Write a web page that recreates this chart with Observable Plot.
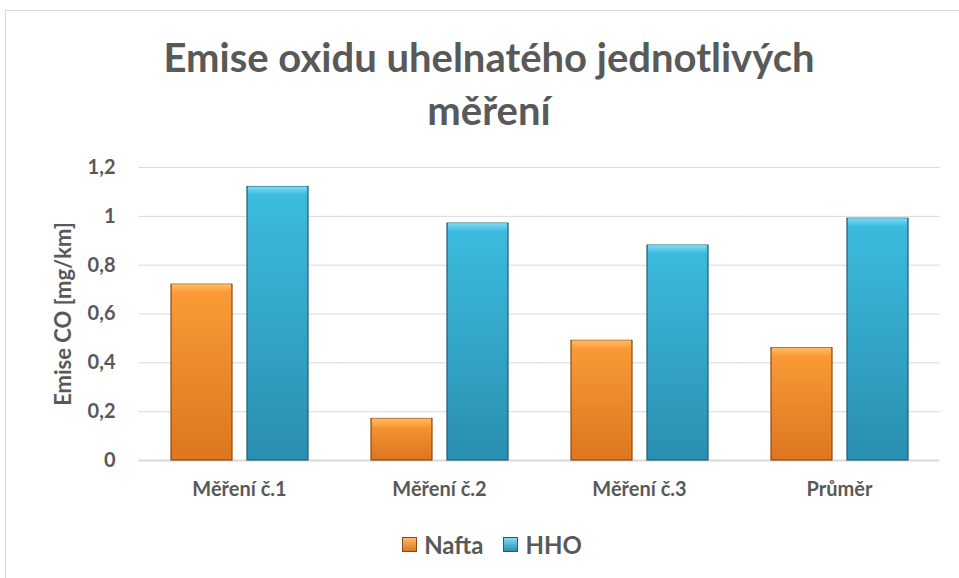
<!DOCTYPE html>
<html><head><meta charset="utf-8">
<script src="https://cdn.jsdelivr.net/npm/d3@7"></script>
<script src="https://cdn.jsdelivr.net/npm/@observablehq/plot@0.6"></script>
<style>
body{margin:0;background:#fff;font-family:Lato,"Open Sans",sans-serif;}
#wrap{position:relative;width:959px;height:578px;overflow:hidden;background:#fff}
#frame{position:absolute;left:5px;top:10px;width:1000px;height:700px;border:1px solid #d9d9d9;box-sizing:border-box}
#title{position:absolute;top:31px;left:0;width:978px;text-align:center;font-weight:700;font-size:40px;color:#595959;line-height:53px}
#chart{position:absolute;left:0;top:140px}
#ylabel{position:absolute;left:62px;top:314px;transform:translate(-50%,-50%) rotate(-90deg);white-space:nowrap;font-weight:700;font-size:22px;color:#595959}
#legend{position:absolute;top:530px;left:0;width:984px;display:flex;justify-content:center;align-items:center;font-weight:700;font-size:24px;color:#595959}
.sw{display:inline-block;width:15px;height:15px;margin-right:7px;box-sizing:border-box}
.item{display:flex;align-items:center;margin:0 10px}
</style></head>
<body>
<div id="wrap">
  <div id="frame"></div>
  <div id="title">Emise oxidu uhelnatého jednotlivých<br>měření</div>
  <div id="chart"></div>
  <div id="ylabel"></div>
  <div id="legend"></div>
</div>
<script>
const categories = ["Měření č.1", "Měření č.2", "Měření č.3", "Průměr"];
const series = ["Nafta", "HHO"];
const naftaValues = [0.72, 0.17, 0.49, 0.46];
const hhoValues = [1.12, 0.97, 0.88, 0.99];
const yTicks = [0, 0.2, 0.4, 0.6, 0.8, 1, 1.2];
const yLabel = "Emise CO [mg/km]";

const colors = {
  Nafta: {top: "#fb9c37", bottom: "#dc7620", edge: "#8c4a10", bevel: "#fdbb6a"},
  HHO: {top: "#3cbce0", bottom: "#2a8fb0", edge: "#1f5d72", bevel: "#7fdcf3"}
};

const data = [];
categories.forEach((c, i) => {
  data.push({cat: c, series: "Nafta", v: naftaValues[i]});
  data.push({cat: c, series: "HHO", v: hhoValues[i]});
});

const fmt = d => String(d).replace(".", ",");

const marks = [
  Plot.ruleY(yTicks.slice(1), {stroke: "#d9d9d9", strokeWidth: 1, insetLeft: -31.5, insetRight: -31.5}),
  Plot.ruleY([0], {stroke: "#d9d9d9", strokeWidth: 2, insetLeft: -31.5, insetRight: -31.5})
];
series.forEach(s => {
  const sub = data.filter(d => d.series === s);
  const key = s === "Nafta" ? "gN" : "gH";
  marks.push(Plot.barY(sub, {fx: "cat", x: "series", y: "v", fill: `url(#${key})`, stroke: colors[s].edge, strokeWidth: 1.2}));
  marks.push(Plot.barY(sub, {fx: "cat", x: "series", y1: "v", y2: "v", insetBottom: -8, insetLeft: 1, insetRight: 1, fill: `url(#${key}b)`}));
});
marks.push(Plot.axisY({ticks: yTicks, tickSize: 0, tickPadding: 55, tickFormat: fmt, label: null}));
marks.push(Plot.axisFx({anchor: "bottom", tickSize: 0, tickPadding: 21, label: null}));

const plot = Plot.plot({
  width: 959,
  height: 380,
  marginLeft: 137,
  marginRight: 19,
  marginTop: 27,
  marginBottom: 60,
  style: {fontFamily: "Lato, 'Open Sans', sans-serif", fontSize: "20px", fontWeight: "700", color: "#595959", overflow: "visible", background: "transparent"},
  fx: {domain: categories, paddingInner: 0.31, paddingOuter: 0.155, label: null, axis: null},
  x: {domain: series, paddingInner: 0.2, paddingOuter: 0, axis: null},
  y: {domain: [0, 1.2], label: null, axis: null},
  marks
});

const svg = d3.select(plot);
const defs = svg.insert("defs", ":first-child");
function grad(id, c1, c2) {
  const g = defs.append("linearGradient").attr("id", id).attr("x1", 0).attr("y1", 0).attr("x2", 0).attr("y2", 1);
  g.append("stop").attr("offset", "0%").attr("stop-color", c1);
  g.append("stop").attr("offset", "100%").attr("stop-color", c2);
}
grad("gN", colors.Nafta.top, colors.Nafta.bottom);
grad("gH", colors.HHO.top, colors.HHO.bottom);
grad("gNb", colors.Nafta.bevel, colors.Nafta.top);
grad("gHb", colors.HHO.bevel, colors.HHO.top);
document.getElementById("chart").appendChild(plot);
document.getElementById("ylabel").textContent = yLabel;

const legend = d3.select("#legend");
series.forEach(s => {
  const it = legend.append("div").attr("class", "item");
  it.append("span").attr("class", "sw")
    .style("background", `linear-gradient(${colors[s].bevel}, ${colors[s].bottom})`)
    .style("border", `1px solid ${colors[s].edge}`);
  it.append("span").text(s);
});
</script>
</body></html>
